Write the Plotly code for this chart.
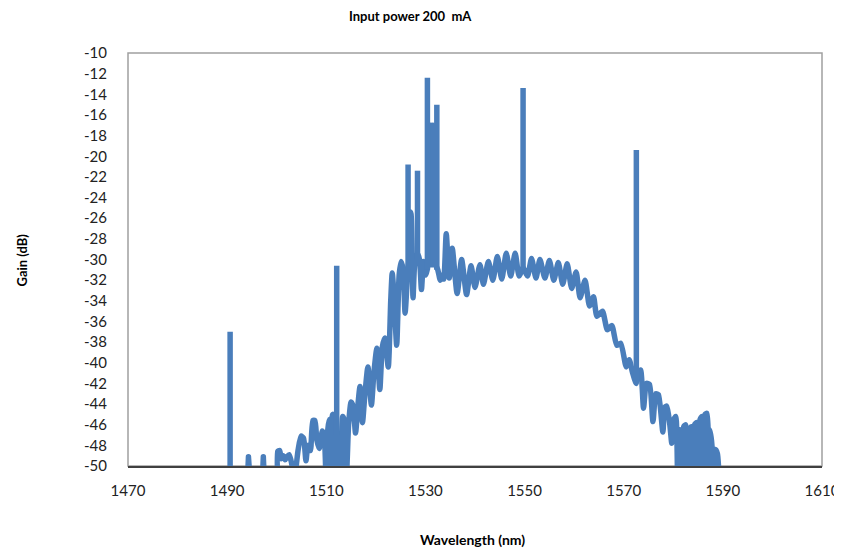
import plotly.graph_objects as go

# broadband spectrum (ripple envelope)
wavelength_nm = [
    1486.0, 1494.2, 1494.3, 1494.4, 1497.2,
    1497.3, 1497.4, 1500.0, 1500.2, 1500.6, 1500.9, 1501.3, 1501.7,
    1502.1, 1502.5, 1502.9, 1503.6, 1504.3, 1504.9, 1505.4, 1505.9,
    1506.3, 1506.8, 1507.3, 1507.7, 1508.1, 1508.6, 1509.2, 1509.6,
    1510.0, 1510.3, 1510.6, 1510.9, 1511.3, 1511.8, 1512.05,
    1512.15, 1512.8, 1513.3, 1513.6, 1514.1, 1514.5, 1515.0, 1515.4,
    1515.9, 1516.4, 1516.8, 1517.3, 1517.8, 1518.4, 1519.1, 1519.6,
    1520.2, 1520.8, 1521.3, 1521.8, 1522.5, 1523.0, 1523.3, 1523.6,
    1524.2, 1524.7, 1525.1, 1525.5, 1525.9, 1526.45, 1526.7,
    1526.9, 1527.1, 1527.5, 1527.9, 1528.35, 1528.45, 1528.8,
    1529.2, 1529.6, 1530.0, 1530.35, 1530.5, 1530.7, 1530.9,
    1531.1, 1531.3, 1531.5, 1531.7, 1531.9, 1532.1, 1532.5,
    1533.0, 1533.4, 1533.7, 1534.2, 1534.8, 1535.4, 1536.4, 1537.3,
    1538.3, 1539.2, 1540.0, 1541.0, 1541.7, 1542.7, 1543.6, 1544.5,
    1545.4, 1546.3, 1547.2, 1548.1, 1548.9, 1549.65, 1549.75,
    1550.6, 1551.4, 1552.3, 1553.1, 1554.1, 1555.0, 1555.9, 1556.8,
    1557.7, 1558.6, 1559.5, 1560.4, 1561.2, 1562.2, 1563.1, 1563.9,
    1564.6, 1565.7, 1566.7, 1567.6, 1568.6, 1569.4, 1570.5, 1571.1,
    1571.8, 1572.5, 1572.6, 1573.4, 1574.0, 1574.6, 1575.2,
    1575.9, 1576.5, 1577.0, 1577.9, 1578.3, 1578.7, 1579.3, 1579.7,
    1580.1, 1580.5, 1580.9, 1581.3, 1581.7, 1582.1, 1582.5, 1582.8,
    1583.2, 1583.6, 1583.9, 1584.3, 1584.7, 1585.0, 1585.4, 1585.8,
    1586.1, 1586.4, 1586.8, 1587.1, 1587.4, 1587.8, 1588.1, 1588.5,
    1588.9, 1589.3, 1589.5, 1592.0,
]

gain_db = [
    -60, -60, -49.1, -60, -60,
    -49.1, -60, -60, -48.6, -48.5, -49.3, -49.0, -49.4,
    -49.1, -48.9, -49.5, -51, -48.5, -47.1, -47.3, -49.5,
    -48.0, -48.5, -45.6, -45.6, -47.5, -48.3, -46.6, -47.2,
    -52, -46.5, -45.5, -52, -45.0, -45.5, -47.0,
    -52, -51, -45.2, -45.5, -50.5, -46.0, -43.8, -44.2,
    -46.8, -44.0, -42.3, -45.8, -43.0, -40.4, -44.1, -41.0,
    -38.6, -42.6, -38.5, -37.6, -40.4, -34.0, -31.3, -33.0,
    -38.3, -31.5, -30.2, -31.0, -35.2, -31.0, -30.0,
    -25.4, -25.6, -33.7, -30.0, -29.5, -29.5, -30.0,
    -32.9, -30.2, -31.5, -31.0, -30.0, -17.0, -30.5,
    -17.0, -30.5, -17.0, -30.5, -17.2, -30.5, -31.0,
    -32.0, -31.5, -31.9, -27.5, -31.8, -28.9, -33.3, -30.0,
    -33.4, -30.6, -32.7, -30.5, -32.4, -30.2, -32.0, -29.7,
    -31.9, -29.4, -31.6, -29.4, -31.6, -30.8, -30.8,
    -31.6, -29.9, -31.8, -30.0, -31.8, -30.1, -32.0, -30.3,
    -32.4, -30.4, -32.8, -31.2, -33.7, -32.0, -34.5, -33.6,
    -35.5, -35.0, -36.8, -36.4, -38.3, -38.1, -40.4, -39.7,
    -41.0, -42.0, -41.5, -40.7, -44.4, -42.0, -42.1,
    -45.7, -43.0, -43.1, -46.7, -44.3, -44.2, -46.0, -47.8,
    -45.5, -45.2, -52, -46.5, -52, -46.2, -46.0, -52,
    -46.6, -46.2, -52, -46.0, -45.8, -52, -45.5, -45.2,
    -52, -45.0, -44.9, -52, -46.5, -48.0, -52, -48.4,
    -48.8, -52, -60, -60,
]
assert len(wavelength_nm) == len(gain_db)

# narrow laser / pump lines on top of the spectrum
spike_wavelength_nm = [1490.6, 1512.1, 1526.5, 1528.4, 1530.4, 1532.3, 1549.7, 1572.55]
spike_top_db = [-37.0, -30.6, -20.8, -21.4, -12.4, -15.0, -13.4, -19.4]
spike_base_db = [-51.0, -47.0, -31.0, -30.0, -31.0, -31.0, -31.0, -42.0]

x_ticks = [1470, 1490, 1510, 1530, 1550, 1570, 1590, 1610]
y_ticks = list(range(-50, -9, 2))

FONT = "Lato, Open Sans, sans-serif"
LINE_COLOR = "#4a7ebb"

spike_x, spike_y = [], []
for w, b, t in zip(spike_wavelength_nm, spike_base_db, spike_top_db):
    spike_x += [w, w, None]
    spike_y += [b, t, None]

fig = go.Figure()
fig.add_trace(go.Scatter(
    x=wavelength_nm, y=gain_db, mode="lines",
    line=dict(color=LINE_COLOR, width=5.5, shape="spline", smoothing=0.6),
    showlegend=False, hoverinfo="skip",
))
fig.add_trace(go.Scatter(
    x=spike_x, y=spike_y, mode="lines", connectgaps=False,
    line=dict(color=LINE_COLOR, width=5.5),
    showlegend=False, hoverinfo="skip",
))

# page body has an 8px default margin, so the figure is sized to fit the window
fig.update_layout(
    width=834, height=541,
    margin=dict(l=120, r=20, t=45, b=83),
    paper_bgcolor="white", plot_bgcolor="white",
    font=dict(family=FONT, color="black"),
    annotations=[
        dict(text="<b>Input power 200  mA</b>", xref="paper", yref="paper",
             x=(410 - 128) / 694, y=1 + (53 - 16) / 413, showarrow=False,
             xanchor="center", yanchor="middle",
             font=dict(family=FONT, size=13, color="black")),
        dict(text="<b>Wavelength (nm)</b>", xref="paper", yref="paper",
             x=(472 - 128) / 694, y=-(539 - 466) / 413, showarrow=False,
             xanchor="center", yanchor="middle",
             font=dict(family=FONT, size=14, color="black")),
        dict(text="<b>Gain (dB)</b>", xref="paper", yref="paper",
             x=-(128 - 21) / 694, y=0.5, showarrow=False, textangle=-90,
             xanchor="center", yanchor="middle",
             font=dict(family=FONT, size=13, color="black")),
    ],
)

fig.update_xaxes(
    range=[1470, 1610], tickvals=x_ticks, ticktext=[str(v) for v in x_ticks],
    showgrid=False, zeroline=False, showline=True, linecolor="#404040", linewidth=1.5,
    ticks="", tickfont=dict(family=FONT, size=15, color="#222"), ticklabelstandoff=10,
    automargin=False,
)
fig.update_yaxes(
    range=[-50, -10], tickvals=y_ticks, ticktext=[str(v) for v in y_ticks],
    showgrid=False, zeroline=False, showline=False,
    ticks="", tickfont=dict(family=FONT, size=15, color="#222"), ticklabelstandoff=20,
    automargin=False,
)

fig.add_shape(type="rect", xref="paper", yref="paper", x0=0, x1=1, y0=0, y1=1,
              line=dict(color="#a0a0a0", width=1.5), layer="below")

fig.write_html("out.html")
